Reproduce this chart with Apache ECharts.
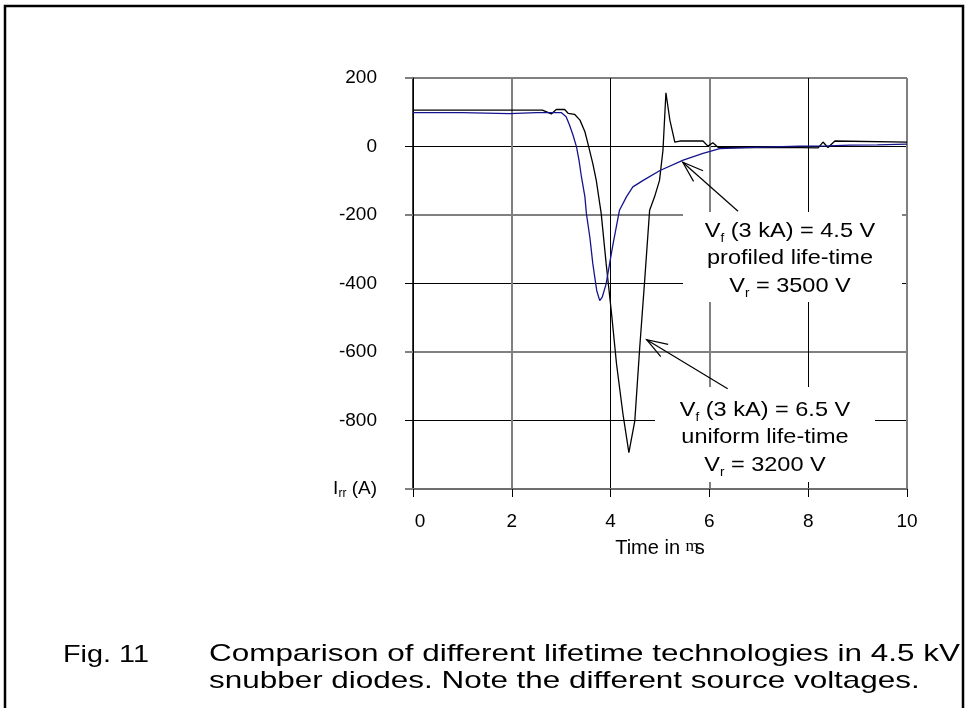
<!DOCTYPE html>
<html><head><meta charset="utf-8">
<script src="https://cdn.jsdelivr.net/npm/echarts@6/dist/echarts.min.js"></script>
<style>html,body{margin:0;padding:0;background:#fff}#c{width:969px;height:708px}</style>
</head><body><div id="c"></div>
<script>
// ---- data ----
const xTicks = [0, 2, 4, 6, 8, 10];
const yTicks = [-1000, -800, -600, -400, -200, 0, 200];
// profiled life-time, Vr = 3500 V (blue)
const profiledTime = [0, 1.0, 1.95, 2.5, 3.0, 3.10, 3.17, 3.24, 3.31, 3.36, 3.41, 3.48, 3.51, 3.58, 3.64, 3.68, 3.72, 3.78, 3.83, 3.91, 3.98, 4.05, 4.18, 4.32, 4.45, 4.66, 5.0, 5.47, 5.87, 6.21, 6.75, 7.83, 8.4, 8.85, 9.4, 10];
const profiledCurrent = [99, 99, 96, 99, 99, 87, 62, 33, -1, -40, -89, -147, -196, -265, -342, -382, -421, -450, -440, -401, -342, -284, -186, -147, -118, -99, -70, -40, -20, -6, -3, 1, 2, 4, 5, 7];
// uniform life-time, Vr = 3200 V (black)
const uniformTime = [0, 2.62, 2.80, 2.90, 3.07, 3.14, 3.27, 3.38, 3.48, 3.54, 3.64, 3.71, 3.81, 3.91, 4.02, 4.12, 4.25, 4.37, 4.49, 4.59, 4.69, 4.79, 4.89, 4.99, 5.06, 5.12, 5.20, 5.30, 5.40, 5.87, 5.97, 6.07, 6.18, 7.83, 8.20, 8.30, 8.40, 8.54, 10];
const uniformCurrent = [106, 106, 95, 108, 108, 97, 94, 77, 43, 9, -50, -99, -196, -342, -489, -635, -781, -894, -801, -586, -391, -186, -147, -99, -11, 157, 77, 13, 16, 16, 1, 11, -3, -3, -4, 13, -3, 16, 13];
// annotation arrows (tail -> tip) in data units
const arrowProfiledTail = [6.58, -189];
const arrowProfiledTip = [5.46, -46];
const arrowUniformTail = [6.37, -707];
const arrowUniformTip = [4.73, -564];

const FONT = '"Liberation Sans", Arial, sans-serif';
const zip = (a, b) => a.map((v, i) => [v, b[i]]);

const chart = echarts.init(document.getElementById('c'));

const option = {
  animation: false,
  backgroundColor: '#fff',
  grid: { left: 413, right: 62, top: 78, bottom: 219, containLabel: false },
  xAxis: [{
    type: 'value', min: xTicks[0], max: xTicks[xTicks.length - 1], interval: 2,
    axisLine: { show: true, onZero: false, lineStyle: { color: '#6e6e6e', width: 2 } },
    axisTick: { show: true, length: 8, lineStyle: { color: '#000', width: 1 } },
    axisLabel: {
      margin: 23, fontSize: 19, color: '#000', fontFamily: FONT,
      formatter: v => v === 0 ? '{z|0}' : String(v),
      rich: { z: { padding: [0, 0, 0, 14], fontSize: 19, color: '#000', fontFamily: FONT } }
    },
    splitLine: { show: true, lineStyle: { color: ['transparent', '#808080'], width: 2 } },
    name: '{a|Time in }{m|m}{a|s}',
    nameLocation: 'middle', nameGap: 49,
    nameTextStyle: {
      rich: {
        a: { fontSize: 20, color: '#000', fontFamily: FONT },
        m: { fontSize: 17, color: '#000', fontFamily: '"Liberation Serif", serif', verticalAlign: 'top', padding: [0, -4, 0, 0] }
      }
    }
  }, {
    type: 'value', min: 0, max: 10, interval: 4, position: 'bottom',
    axisLine: { show: false }, axisTick: { show: false }, axisLabel: { show: false },
    splitLine: { show: true, lineStyle: { color: ['#000', '#000', '#000', 'transparent'], width: 1 } }
  }],
  yAxis: [{
    type: 'value', min: yTicks[0], max: yTicks[yTicks.length - 1], interval: 200,
    axisLine: { show: true, onZero: false, lineStyle: { color: '#000', width: 1.5 } },
    axisTick: { show: true, length: 8, lineStyle: { color: '#000', width: 1 } },
    axisLabel: {
      margin: 36, fontSize: 19, color: '#000', fontFamily: FONT,
      formatter: v => v === -1000 ? '{i|I}{s|rr}{i| (A)}' : String(v),
      rich: {
        i: { fontSize: 19, color: '#000', fontFamily: FONT, lineHeight: 22 },
        s: { fontSize: 12, color: '#000', fontFamily: FONT, verticalAlign: 'bottom', lineHeight: 15 }
      }
    },
    splitLine: { show: true, lineStyle: { color: ['transparent', '#000'], width: 1 } }
  }, {
    type: 'value', min: -1000, max: 200, interval: 400, position: 'left',
    axisLine: { show: false },
    axisTick: { show: true, length: 8, lineStyle: { color: '#808080', width: 2 } },
    axisLabel: { show: false },
    splitLine: { show: true, lineStyle: { color: '#808080', width: 2 } }
  }],
  series: [{
    name: 'profiled', type: 'line', xAxisIndex: 0, yAxisIndex: 0,
    data: zip(profiledTime, profiledCurrent), showSymbol: false, z: 4,
    lineStyle: { color: '#14148c', width: 1.3 }
  }, {
    name: 'uniform', type: 'line', xAxisIndex: 0, yAxisIndex: 0,
    data: zip(uniformTime, uniformCurrent), showSymbol: false, z: 3,
    lineStyle: { color: '#000', width: 1.3 }
  }]
};
chart.setOption(option);

function arrow(tail, tip) {
  const a = chart.convertToPixel({ gridIndex: 0 }, tail);
  const b = chart.convertToPixel({ gridIndex: 0 }, tip);
  const ang = Math.atan2(a[1] - b[1], a[0] - b[0]);
  const L = 22, d = 19 * Math.PI / 180;
  const p1 = [b[0] + L * Math.cos(ang + d), b[1] + L * Math.sin(ang + d)];
  const p2 = [b[0] + L * Math.cos(ang - d), b[1] + L * Math.sin(ang - d)];
  return [
    { type: 'polyline', z: 5, shape: { points: [a, b] }, style: { stroke: '#000', lineWidth: 1.2, fill: null } },
    { type: 'polyline', z: 5, shape: { points: [p1, b, p2] }, style: { stroke: '#000', lineWidth: 1.2, fill: null } }
  ];
}
const annRich = {
  n: { fontSize: 21, fontFamily: FONT, fill: '#000', lineHeight: 27.5 },
  s: { fontSize: 12, fontFamily: FONT, fill: '#000', verticalAlign: 'bottom', lineHeight: 17 }
};
const capScale = 1.31;
chart.setOption({
  graphic: [
    { type: 'rect', z: 1, shape: { x: 683, y: 212, width: 219, height: 90 }, style: { fill: '#fff' } },
    { type: 'rect', z: 1, shape: { x: 655, y: 387, width: 220, height: 95 }, style: { fill: '#fff' } },
    ...arrow(arrowProfiledTail, arrowProfiledTip),
    ...arrow(arrowUniformTail, arrowUniformTip),
    { type: 'text', z: 5, x: 790, y: 217, scaleX: 1.12, style: { x: 0, y: 0, textAlign: 'center', textVerticalAlign: 'top',
      text: '{n|V}{s|f}{n| (3 kA) = 4.5 V}\n{n|profiled life-time}\n{n|V}{s|r}{n| = 3500 V}', rich: annRich } },
    { type: 'text', z: 5, x: 765, y: 396, scaleX: 1.12, style: { x: 0, y: 0, textAlign: 'center', textVerticalAlign: 'top',
      text: '{n|V}{s|f}{n| (3 kA) = 6.5 V}\n{n|uniform life-time}\n{n|V}{s|r}{n| = 3200 V}', rich: annRich } },
    { type: 'text', z: 5, x: 63, y: 655, scaleX: 1.2, style: { x: 0, y: 0, textVerticalAlign: 'middle', text: 'Fig. 11',
      fontSize: 24, fontFamily: FONT, fill: '#000' } },
    { type: 'text', z: 5, x: 209, y: 641, scaleX: capScale, style: { x: 0, y: 0, textVerticalAlign: 'top', lineHeight: 27,
      text: 'Comparison of different lifetime technologies in 4.5 kV\nsnubber diodes. Note the different source voltages.',
      fontSize: 24, fontFamily: FONT, fill: '#000' } },
    { type: 'rect', z: 6, shape: { x: 5, y: 6, width: 958, height: 720 }, style: { fill: null, stroke: '#000', lineWidth: 2.5 } }
  ]
});
</script></body></html>
